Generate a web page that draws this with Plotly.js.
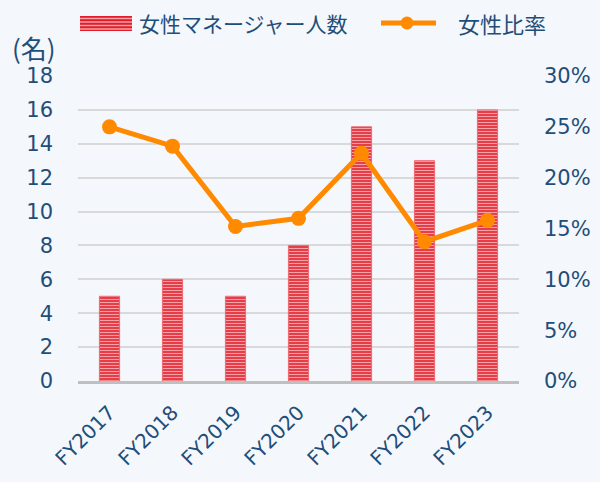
<!DOCTYPE html>
<html><head><meta charset="utf-8">
<script src="https://cdn.plot.ly/plotly-3.0.1.min.js"></script>
<style>html,body{margin:0;padding:0;background:#f4f7fc;}#chart{width:600px;height:482px;}</style>
</head><body><div id="chart"></div>
<script>
const categories = ["FY2017","FY2018","FY2019","FY2020","FY2021","FY2022","FY2023"];
const managers = [5, 6, 5, 8, 15, 13, 16];
const ratio = [0.25, 0.231, 0.152, 0.16, 0.224, 0.137, 0.158];
const leftTicks = [0,2,4,6,8,10,12,14,16,18];
const rightTicks = [0,0.05,0.10,0.15,0.20,0.25,0.30];
const rightTickText = ["0%","5%","10%","15%","20%","25%","30%"];
const barName = '女性マネージャー人数';
const lineName = '女性比率';
const unitLabel = '(名)';

const FONT = '"DejaVu Sans", "Noto Sans CJK JP", sans-serif';
const JFONT = '"Noto Sans CJK JP", "DejaVu Sans", sans-serif';
const TXT = '#1f4e79';
const RED = '#e11d2a', PINK = '#f5a0a6', ORANGE = '#ff8a00';

// plot area in pixels
const L = 78, R = 81, T = 76, B = 101, W = 600, H = 482;
const pw = W - L - R, ph = H - T - B;
const px = X => (X - L) / pw;
const py = Y => (H - B - Y) / ph;

const traces = [
  {type:'bar', x:categories, y:managers, name:barName, width:0.32,
   marker:{color:RED, line:{color:'#ec6a72', width:1},
     pattern:{shape:'-', size:3, solidity:0.5, fgcolor:PINK, bgcolor:RED}},
   hoverinfo:'skip', showlegend:false},
  {type:'scatter', mode:'lines+markers', x:categories, y:ratio, yaxis:'y2', name:lineName,
   line:{color:ORANGE, width:5}, marker:{color:ORANGE, size:15}, hoverinfo:'skip', showlegend:false}
];

// manual legend
const shapes = [
  {type:'rect', xref:'paper', yref:'paper', x0:px(80), x1:px(132), y0:py(31), y1:py(16),
   fillcolor:RED, line:{width:0}}
];
[18.5, 22, 25.5, 29].forEach(Y => shapes.push(
  {type:'line', xref:'paper', yref:'paper', x0:px(80), x1:px(132), y0:py(Y), y1:py(Y),
   line:{color:PINK, width:1.5}}));
shapes.push({type:'line', xref:'paper', yref:'paper', x0:px(381), x1:px(436), y0:py(23), y1:py(23),
   line:{color:ORANGE, width:5}});
shapes.push({type:'circle', xref:'paper', yref:'paper', x0:px(400.5), x1:px(413.5), y0:py(29.5), y1:py(16.5),
   fillcolor:ORANGE, line:{width:0}});

const layout = {
  width:W, height:H,
  paper_bgcolor:'#f4f7fc', plot_bgcolor:'#f4f7fc',
  margin:{l:L, r:R, t:T, b:B},
  font:{family:FONT, color:TXT, size:20},
  showlegend:false,
  bargap:0.68,
  xaxis:{type:'category', tickangle:-45, showgrid:false, zeroline:false,
    showline:true, linecolor:'#bfbfbf', linewidth:3, ticks:'', ticklabelstandoff:9,
    tickfont:{family:FONT, size:20, color:TXT}},
  yaxis:{range:[0,18], tickvals:leftTicks, showgrid:true, gridcolor:'#d9d9d9', gridwidth:2,
    zeroline:false, showline:false, ticks:'', ticklabelstandoff:24,
    tickfont:{family:FONT, size:21, color:TXT}},
  yaxis2:{range:[0,0.30], overlaying:'y', side:'right', tickvals:rightTicks, ticktext:rightTickText,
    showgrid:false, zeroline:false, showline:false, ticks:'', ticklabelstandoff:24,
    tickfont:{family:FONT, size:21, color:TXT}},
  shapes:shapes,
  annotations:[
    {text:unitLabel, xref:'paper', yref:'paper', x:px(10), y:py(47), xanchor:'left', yanchor:'middle',
     showarrow:false, font:{family:JFONT, size:26, color:TXT}},
    {text:barName, xref:'paper', yref:'paper', x:px(137), y:py(23), xanchor:'left', yanchor:'middle',
     showarrow:false, font:{family:JFONT, size:21, color:TXT}},
    {text:lineName, xref:'paper', yref:'paper', x:px(456), y:py(23), xanchor:'left', yanchor:'middle',
     showarrow:false, font:{family:JFONT, size:22, color:TXT}}
  ]
};
Plotly.newPlot('chart', traces, layout, {staticPlot:true, displayModeBar:false});
</script></body></html>
